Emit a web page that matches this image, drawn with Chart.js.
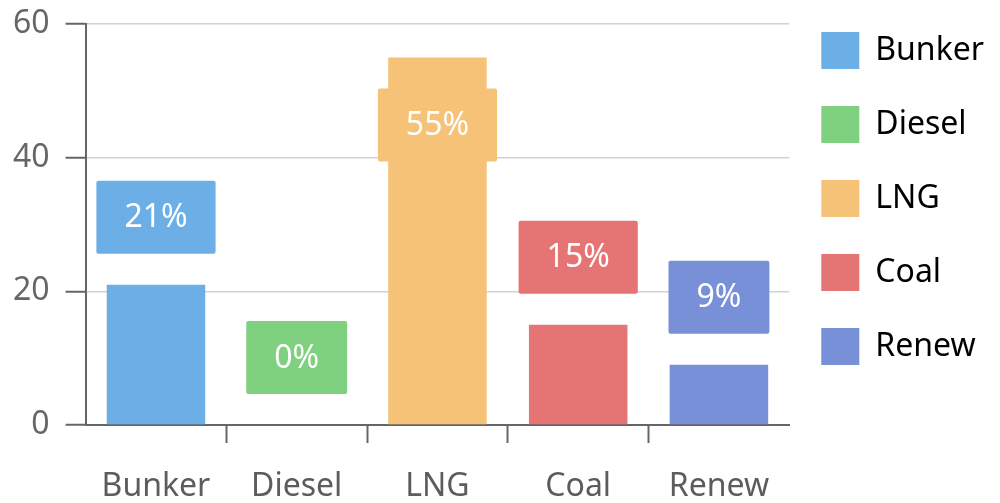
<!DOCTYPE html>
<html>
<head>
<meta charset="utf-8">
<script src="https://cdn.jsdelivr.net/npm/chart.js@4"></script>
<style>
  html, body { margin: 0; padding: 0; background: #fff; }
  #wrap { width: 1000px; height: 503px; }
</style>
</head>
<body>
<div id="wrap"><canvas id="fuelCanvas"></canvas></div>
<script>
const categories = ['Bunker', 'Diesel', 'LNG', 'Coal', 'Renew'];
const shares = [21, 0, 55, 15, 9];
const barColors = ['#6caee6', '#7fd07f', '#f6c277', '#e57575', '#7790d8'];
const yTicks = [0, 20, 40, 60];

const FONT = "'Noto Sans', sans-serif";
const textGray = '#5c5c5c';

// boxed percentage above each bar (falls back inside the bar when it would clip)
const valueBoxes = {
  id: 'valueBoxes',
  afterDatasetsDraw(chart) {
    const { ctx, chartArea } = chart;
    const meta = chart.getDatasetMeta(0);
    const ds = chart.data.datasets[0];
    ctx.save();
    ctx.font = `32px ${FONT}`;
    ctx.textAlign = 'center';
    ctx.textBaseline = 'middle';
    meta.data.forEach((bar, i) => {
      const label = `${ds.data[i]}%`;
      const w = ctx.measureText(label).width + 56;
      const h = 73;
      let top = bar.y - 31 - h;
      if (top < chartArea.top) top = bar.y + 31;
      ctx.fillStyle = ds.backgroundColor[i];
      ctx.beginPath();
      ctx.roundRect(bar.x - w / 2, top, w, h, 2);
      ctx.fill();
      ctx.fillStyle = '#ffffff';
      ctx.fillText(label, bar.x, top + h / 2 + 1);
    });
    ctx.restore();
  }
};

new Chart(document.getElementById('fuelCanvas'), {
  type: 'bar',
  data: {
    labels: categories,
    datasets: [{
      label: 'Share',
      data: shares,
      backgroundColor: barColors,
      barPercentage: 0.7,
      categoryPercentage: 1,
    }],
  },
  options: {
    responsive: true,
    maintainAspectRatio: false,
    animation: false,
    layout: { padding: { left: -3, right: 6, top: 0, bottom: -28 } },
    plugins: {
      tooltip: { enabled: false },
      legend: {
        position: 'right',
        align: 'start',
        labels: {
          boxWidth: 38,
          boxHeight: 37,
          padding: 32,
          color: textGray,
          font: { family: FONT, size: 32, lineHeight: '42px' },
          // text as a one-line array so the row height follows lineHeight
          generateLabels: () => categories.map((c, i) => ({
            text: [c],
            fillStyle: barColors[i],
            strokeStyle: barColors[i],
            lineWidth: 0,
            index: i,
          })),
        },
      },
    },
    scales: {
      x: {
        offset: true,
        grid: {
          offset: true,
          drawOnChartArea: false,
          drawTicks: true,
          tickLength: 18,
          tickWidth: 2,
          tickColor: (c) => (c.index === undefined || c.index === 0) ? 'rgba(0,0,0,0)' : '#666',
        },
        border: { color: '#666', width: 2 },
        ticks: {
          color: textGray,
          padding: 28,
          font: { family: FONT, size: 32, lineHeight: 1 },
          maxRotation: 0,
        },
      },
      y: {
        min: 0,
        max: 60,
        afterBuildTicks: (axis) => { axis.ticks = yTicks.map(v => ({ value: v })); },
        grid: {
          color: '#d2d2d2',
          lineWidth: 1.5,
          tickLength: 20,
          tickColor: '#666',
          tickWidth: 2,
        },
        border: { color: '#666', width: 2 },
        ticks: {
          color: '#666',
          padding: 16,
          font: { family: FONT, size: 32, lineHeight: 0.5 },
        },
      },
    },
  },
  plugins: [valueBoxes],
});
</script>
</body>
</html>
